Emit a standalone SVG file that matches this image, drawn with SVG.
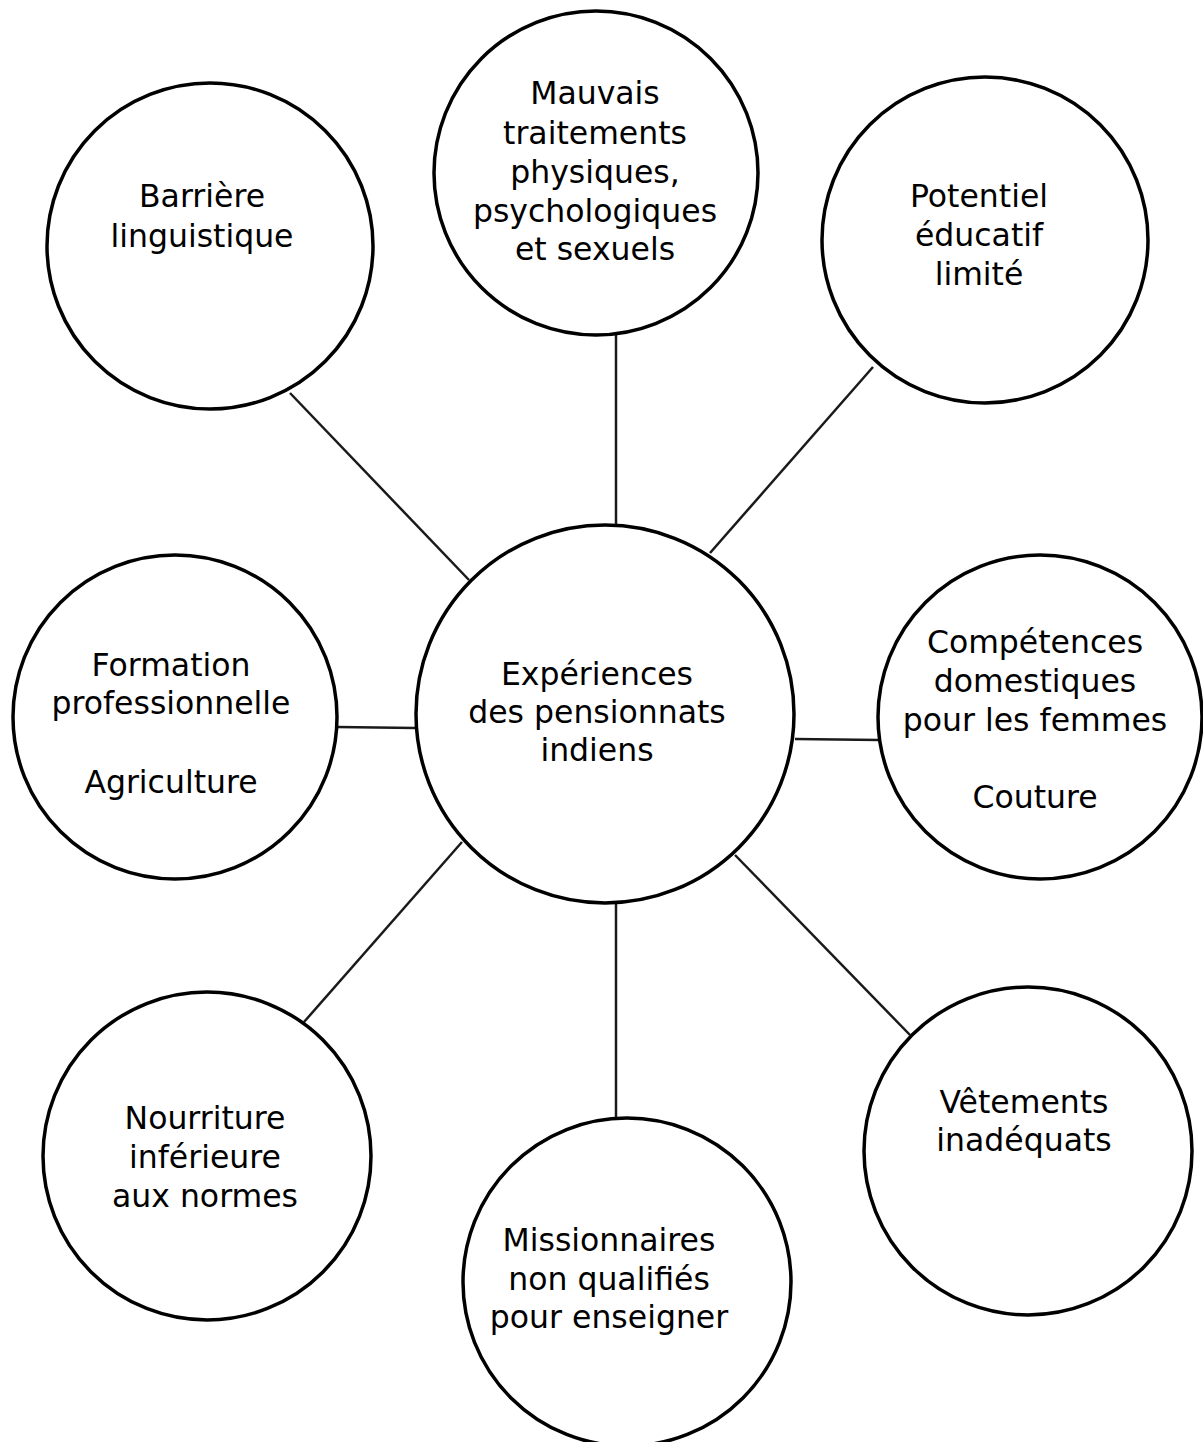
<svg xmlns="http://www.w3.org/2000/svg" width="1203" height="1442" viewBox="0 0 1203 1442">
<style>
.n{fill:#fff;stroke:#000;stroke-width:3.5}
.c line{stroke:#1a1a1a;stroke-width:2.5}
text{font-family:"DejaVu Sans","Liberation Sans",sans-serif;font-size:31.5px;text-anchor:middle;fill:#000}
</style>
<rect width="1203" height="1442" fill="#fff"/>
<g id="connectors" class="c">
<line x1="616" y1="333" x2="616" y2="526"/>
<line x1="290" y1="393" x2="469" y2="580"/>
<line x1="873" y1="367" x2="710" y2="553"/>
<line x1="337" y1="727" x2="416" y2="728"/>
<line x1="795" y1="739" x2="879" y2="740"/>
<line x1="304" y1="1022" x2="462" y2="842"/>
<line x1="616" y1="902" x2="616" y2="1118"/>
<line x1="910" y1="1035" x2="735" y2="855"/>
</g>
<g id="center">
<circle class="n" cx="605" cy="714" r="189"/>
<text x="597" y="685">Expériences</text>
<text x="597" y="723">des pensionnats</text>
<text x="597" y="761">indiens</text>
</g>
<g id="n-mauvais">
<circle class="n" cx="596" cy="173" r="162"/>
<text x="595" y="104">Mauvais</text>
<text x="595" y="144">traitements</text>
<text x="595" y="183">physiques,</text>
<text x="595" y="222">psychologiques</text>
<text x="595" y="260">et sexuels</text>
</g>
<g id="n-barriere">
<circle class="n" cx="210" cy="246" r="163"/>
<text x="202" y="207">Barrière</text>
<text x="202" y="247">linguistique</text>
</g>
<g id="n-potentiel">
<circle class="n" cx="985" cy="240" r="163"/>
<text x="979" y="207">Potentiel</text>
<text x="979" y="246">éducatif</text>
<text x="979" y="285">limité</text>
</g>
<g id="n-formation">
<circle class="n" cx="175" cy="717" r="162"/>
<text x="171" y="676">Formation</text>
<text x="171" y="714">professionnelle</text>
<text x="171" y="793">Agriculture</text>
</g>
<g id="n-competences">
<circle class="n" cx="1040" cy="717" r="162"/>
<text x="1035" y="653">Compétences</text>
<text x="1035" y="692">domestiques</text>
<text x="1035" y="731">pour les femmes</text>
<text x="1035" y="808">Couture</text>
</g>
<g id="n-nourriture">
<circle class="n" cx="207" cy="1156" r="164"/>
<text x="205" y="1129">Nourriture</text>
<text x="205" y="1168">inférieure</text>
<text x="205" y="1207">aux normes</text>
</g>
<g id="n-missionnaires">
<circle class="n" cx="627" cy="1282" r="164"/>
<text x="609" y="1251">Missionnaires</text>
<text x="609" y="1290">non qualifiés</text>
<text x="609" y="1328">pour enseigner</text>
</g>
<g id="n-vetements">
<circle class="n" cx="1028" cy="1151" r="164"/>
<text x="1024" y="1113">Vêtements</text>
<text x="1024" y="1151">inadéquats</text>
</g>
</svg>
